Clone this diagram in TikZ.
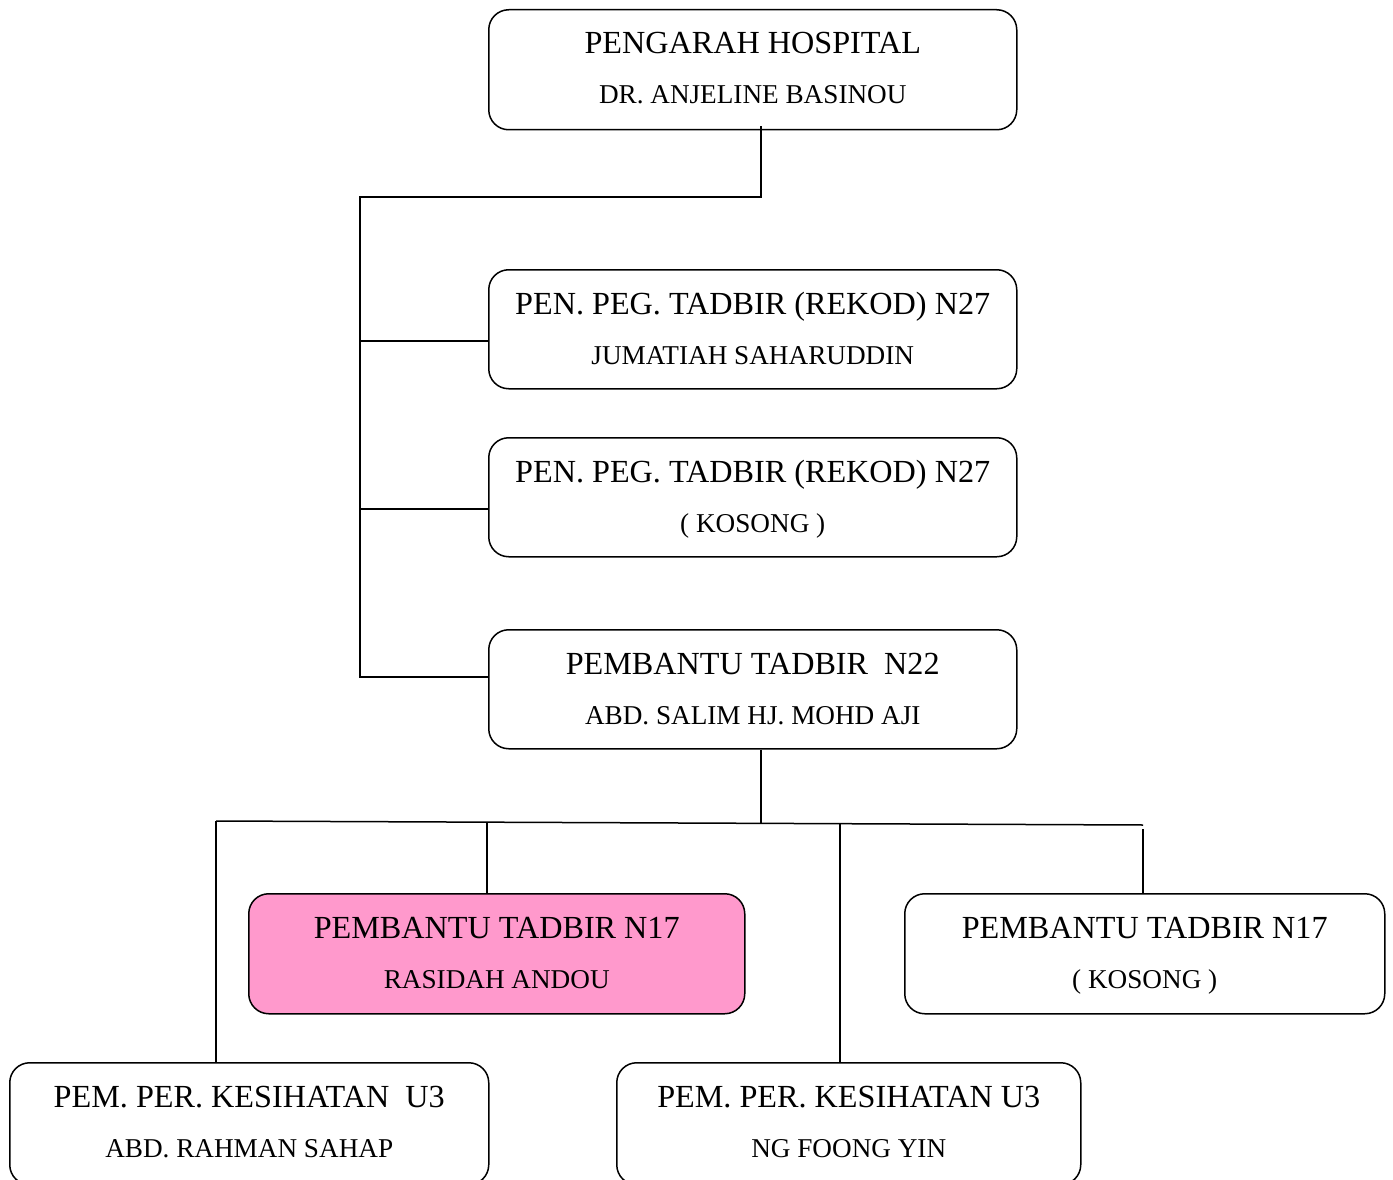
\documentclass[tikz,border=0pt]{standalone}
\usepackage{fontspec}
\setmainfont{Liberation Serif}
\definecolor{pinkfill}{HTML}{FF99CC}
\begin{document}
\begin{tikzpicture}[x=1pt,y=-1pt,
  orgbox/.style={draw, line width=1.5pt, rounded corners=20pt, inner sep=0pt, anchor=north west},
  lineone/.style={font=\fontsize{32.2}{32.2}\selectfont, anchor=base, inner sep=0pt},
  linetwo/.style={font=\fontsize{27.2}{27.2}\selectfont, anchor=base, inner sep=0pt},
  conn/.style={line width=1.5pt}]
\useasboundingbox (0,0) rectangle (1393,1180);
% boxes
\node[orgbox, minimum width=528pt, minimum height=120pt] (top) at (488,9) {};
\node[orgbox, minimum width=528pt, minimum height=119pt] (b2) at (488,269) {};
\node[orgbox, minimum width=528pt, minimum height=119pt] (b3) at (488,437) {};
\node[orgbox, minimum width=528pt, minimum height=119pt] (b4) at (488,629) {};
\node[orgbox, fill=pinkfill, minimum width=496pt, minimum height=120pt] (pink) at (248,893) {};
\node[orgbox, minimum width=480pt, minimum height=120pt] (rt) at (904,893) {};
\node[orgbox, minimum width=479pt, minimum height=122pt] (bl) at (9,1062) {};
\node[orgbox, minimum width=464pt, minimum height=122pt] (bm) at (616,1062) {};
% texts
\node[lineone] (t1a) at ([yshift=-45pt]top.north) {PENGARAH HOSPITAL};
\node[linetwo] (t1b) at ([yshift=-95pt]top.north) {DR. ANJELINE BASINOU};
\node[lineone] (t2a) at ([yshift=-45pt]b2.north) {PEN. PEG. TADBIR (REKOD) N27};
\node[linetwo] (t2b) at ([yshift=-95pt]b2.north) {JUMATIAH SAHARUDDIN};
\node[lineone] (t3a) at ([yshift=-45pt]b3.north) {PEN. PEG. TADBIR (REKOD) N27};
\node[linetwo] (t3b) at ([yshift=-95pt]b3.north) {( KOSONG )};
\node[lineone] (t4a) at ([yshift=-45pt]b4.north) {PEMBANTU TADBIR\ \ N22};
\node[linetwo] (t4b) at ([yshift=-95pt]b4.north) {ABD. SALIM HJ. MOHD AJI};
\node[lineone] (t5a) at ([yshift=-45pt]pink.north) {PEMBANTU TADBIR N17};
\node[linetwo] (t5b) at ([yshift=-95pt]pink.north) {RASIDAH ANDOU};
\node[lineone] (t6a) at ([yshift=-45pt]rt.north) {PEMBANTU TADBIR N17};
\node[linetwo] (t6b) at ([yshift=-95pt]rt.north) {( KOSONG )};
\node[lineone] (t7a) at ([yshift=-45pt]bl.north) {PEM. PER. KESIHATAN\ \ U3};
\node[linetwo] (t7b) at ([yshift=-95pt]bl.north) {ABD. RAHMAN SAHAP};
\node[lineone] (t8a) at ([yshift=-45pt]bm.north) {PEM. PER. KESIHATAN U3};
\node[linetwo] (t8b) at ([yshift=-95pt]bm.north) {NG FOONG YIN};
% upper connectors
\coordinate (j1) at (761,197);
\coordinate (sp) at (360,197);
\coordinate (s2) at (360,341);
\coordinate (s3) at (360,509);
\coordinate (s4) at (360,677);
\draw[conn] ([yshift=4pt]top.south -| j1) -- (j1) -- (sp) -- (s4) -- (s4 -| b4.west);
\draw[conn] (s2) -- (s2 -| b2.west);
\draw[conn] (s3) -- (s3 -| b3.west);
% lower connectors
\coordinate (h1) at (216,821);
\coordinate (j2) at (761,823);
\coordinate (v2) at (487,822);
\coordinate (v3) at (840,823.5);
\coordinate (h4) at (1143,825);
\draw[conn] (b4.south -| j2) -- (j2);
\draw[conn] (h1) -- (h4);
\draw[conn] (h1) -- (h1 |- bl.north);
\draw[conn] (v2) -- (v2 |- pink.north);
\draw[conn] (v3) -- (v3 |- bm.north);
\draw[conn] ([yshift=-4pt]h4) -- (h4 |- rt.north);
\end{tikzpicture}
\end{document}
